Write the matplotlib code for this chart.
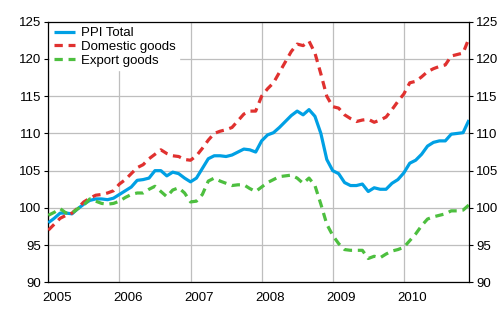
import matplotlib
matplotlib.use("Agg")
import matplotlib.pyplot as plt

plt.rcParams["font.family"] = ["Liberation Sans", "DejaVu Sans"]

# Monthly index values, Jan 2005 .. Dec 2010 (2005 = 100)
months = list(range(72))
years = ["2005", "2006", "2007", "2008", "2009", "2010"]

ppi_total = [98.0, 98.6, 99.3, 99.3, 99.2, 99.9, 100.5, 101.0, 101.2, 101.2, 101.1, 101.3,
             101.8, 102.3, 102.8, 103.7, 103.8, 104.0, 105.0, 105.0, 104.3, 104.8, 104.6, 104.0,
             103.5, 104.0, 105.3, 106.6, 107.0, 107.0, 106.9, 107.1, 107.5, 107.9, 107.8, 107.5,
             109.0, 109.8, 110.1, 110.8, 111.6, 112.4, 113.0, 112.5, 113.2, 112.3, 110.0, 106.5,
             105.0, 104.6, 103.4, 103.0, 103.0, 103.2, 102.2, 102.7, 102.5, 102.5, 103.3, 103.8,
             104.7, 106.0, 106.4, 107.2, 108.3, 108.8, 109.0, 109.0, 109.9, 110.0, 110.1, 111.8]

domestic = [97.0, 97.8, 98.6, 99.0, 99.3, 100.0, 100.8, 101.3, 101.7, 101.8, 102.0, 102.3,
            103.2, 103.8, 104.6, 105.4, 105.8, 106.6, 107.2, 107.8, 107.3, 107.0, 106.9, 106.5,
            106.4, 107.0, 108.0, 109.1, 110.0, 110.3, 110.5, 110.8, 111.7, 112.6, 113.0, 113.0,
            115.0, 116.0, 116.8, 118.2, 119.6, 121.0, 122.0, 121.8, 122.4, 120.8, 118.0, 115.0,
            113.6, 113.4, 112.5, 112.0, 111.6, 111.8, 111.9, 111.5, 111.8, 112.2, 113.2, 114.3,
            115.3, 116.8, 117.0, 117.6, 118.3, 118.7, 119.0, 119.2, 120.4, 120.6, 120.8, 122.8]

export = [99.0, 99.4, 99.9, 99.3, 99.3, 99.9, 100.4, 101.2, 100.9, 100.6, 100.5, 100.6,
          100.9, 101.4, 101.8, 102.0, 102.0, 102.5, 102.9, 102.2, 101.5, 102.4, 102.7, 102.0,
          100.8, 100.9, 101.8, 103.6, 104.0, 103.6, 103.3, 103.0, 103.1, 103.1, 102.6, 102.2,
          102.8, 103.4, 103.8, 104.2, 104.3, 104.4, 104.0, 103.3, 104.0, 103.0, 100.5, 97.8,
          96.3, 95.2, 94.4, 94.3, 94.3, 94.3, 93.2, 93.5, 93.3, 93.8, 94.2, 94.4,
          94.7, 95.6, 96.5, 97.6, 98.5, 98.8, 99.0, 99.2, 99.6, 99.6, 99.7, 100.4]

fig = plt.figure(figsize=(5, 3.3), dpi=100)
ax = fig.add_axes([0.0966, 0.1445, 0.8414, 0.7895])

ax.plot(months, ppi_total, color="#00A0E4", lw=2.3, label="PPI Total",
        solid_capstyle="butt", zorder=3)
ax.plot(months, domestic, color="#E0312F", lw=2.3, dashes=(2.6, 1.8), label="Domestic goods",
        zorder=3)
ax.plot(months, export, color="#4DBF3F", lw=2.3, dashes=(2.6, 1.8), label="Export goods",
        zorder=3)

ax.set_xlim(0, 71)
ax.set_ylim(90, 125)
ax.set_yticks(range(90, 126, 5))

# year gridlines at January, labels just to the right
ax.set_xticks([12 * i for i in range(6)])
ax.set_xticklabels([])
ax.set_xticks([12 * i + 1.4 for i in range(6)], labels=years, minor=True)
ax.tick_params(axis="x", which="both", length=0)
ax.tick_params(axis="x", which="minor", labelsize=9.5, pad=7)

ax.tick_params(axis="y", left=True, right=True, labelleft=True, labelright=True,
               direction="out", length=3, width=0.8, labelsize=9.5, pad=2)

ax.grid(True, which="major", color="#BEBEBE", lw=0.9)
ax.set_axisbelow(True)
for s in ax.spines.values():
    s.set_linewidth(0.9)
    s.set_color("black")

leg = ax.legend(loc="upper left", fontsize=9.5, frameon=True, fancybox=False,
                handlelength=1.6, handletextpad=0.45, labelspacing=0.12,
                borderaxespad=0.15, borderpad=0.25)
leg.get_frame().set_edgecolor("white")
leg.get_frame().set_facecolor("white")
leg.get_frame().set_alpha(1)

fig.savefig("out.png", dpi=100)
